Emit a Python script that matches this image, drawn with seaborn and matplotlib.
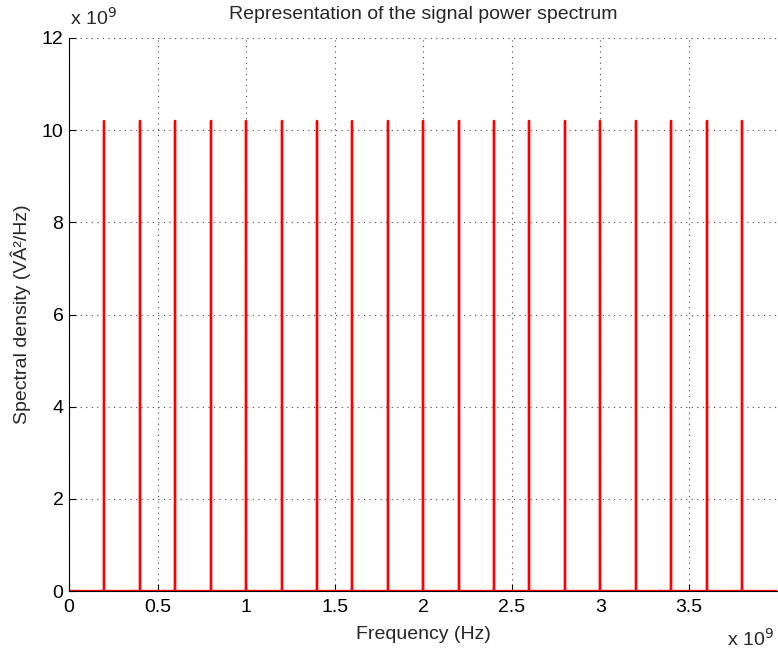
import numpy as np
import pandas as pd
import matplotlib
matplotlib.use("Agg")
import matplotlib.pyplot as plt
from matplotlib.ticker import FuncFormatter, MultipleLocator
import seaborn as sns

# Data
peak_freqs_ghz = [0.2, 0.4, 0.6, 0.8, 1.0, 1.2, 1.4, 1.6, 1.8, 2.0,
                  2.2, 2.4, 2.6, 2.8, 3.0, 3.2, 3.4, 3.6, 3.8]
peak_heights_e9 = [10.2] * len(peak_freqs_ghz)
x_max_ghz = 3.998
title = "Representation of the signal power spectrum"
xlabel = "Frequency (Hz)"
ylabel = "Spectral density (VÂ²/Hz)"

# Build spectrum trace from the peak lists
xs, ys = [0.0], [0.0]
for f, h in zip(peak_freqs_ghz, peak_heights_e9):
    xs += [f * 1e9, f * 1e9, f * 1e9]
    ys += [0.0, h * 1e9, 0.0]
xs.append(x_max_ghz * 1e9)
ys.append(0.0)
df = pd.DataFrame({"freq": xs, "psd": ys})

sns.set_style("white")
plt.rcParams["font.family"] = ["Liberation Sans", "DejaVu Sans"]

fig = plt.figure(figsize=(7.78, 6.54), dpi=100)
ax = fig.add_axes([69 / 778, 63 / 654, 708 / 778, 553 / 654])

sns.lineplot(data=df, x="freq", y="psd", sort=False, estimator=None,
             color="#ff0000", linewidth=1.7, ax=ax)

ax.set_xlim(0, x_max_ghz * 1e9)
ax.set_ylim(0, 12e9)
ax.xaxis.set_major_locator(MultipleLocator(0.5e9))
ax.yaxis.set_major_locator(MultipleLocator(2e9))
fmt = FuncFormatter(lambda v, p: f"{v / 1e9:g}")
ax.xaxis.set_major_formatter(fmt)
ax.yaxis.set_major_formatter(fmt)

ax.grid(True, linestyle=(0, (1, 4)), color="#444444", linewidth=0.8)
ax.set_axisbelow(True)
for s in ["top", "right"]:
    ax.spines[s].set_visible(False)
for s in ["left", "bottom"]:
    ax.spines[s].set_color("black")
    ax.spines[s].set_linewidth(0.8)
ax.tick_params(direction="in", length=5, width=0.8, colors="black",
               labelsize=14, bottom=True, left=True)
ax.tick_params(axis="x", pad=6)
ax.tick_params(axis="y", pad=4)

ax.set_title(title, fontsize=14, pad=14)
ax.set_xlabel(xlabel, fontsize=14, labelpad=7)
ax.set_ylabel(ylabel, fontsize=14, labelpad=8)

fig.text(70 / 778, 1 - 18 / 654, r"x 10$^{9}$", fontsize=14, ha="left", va="center")
fig.text(774 / 778, 1 - 639 / 654, r"x 10$^{9}$", fontsize=14, ha="right", va="center")

fig.savefig("out.png", dpi=100)
